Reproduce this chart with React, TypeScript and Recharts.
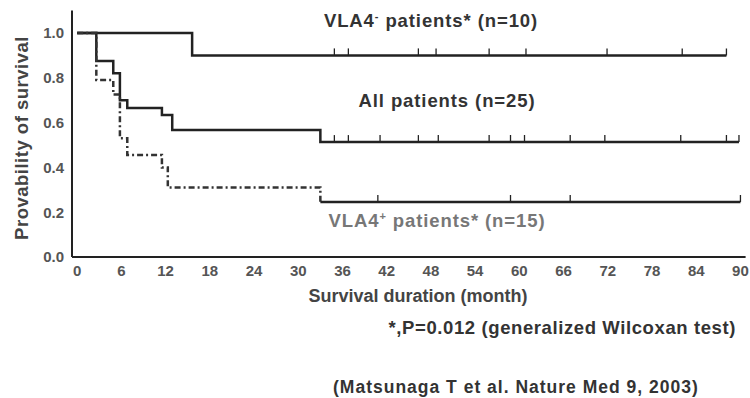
import React from "react";
import {
  ComposedChart,
  Line,
  Scatter,
  XAxis,
  YAxis,
} from "recharts";

// Kaplan-Meier steps (months, survival)
const negTimes = [0, 15.6, 88.1];
const negSurv = [1.0, 0.9, 0.9];
const negCensor = [34.9, 36.8, 46.3, 48.7, 55.9, 60.9, 71.9, 82.1, 88.1];

const allTimes = [0, 2.6, 4.9, 5.8, 6.8, 11.5, 12.9, 33, 89.8];
const allSurv = [1.0, 0.875, 0.82, 0.7, 0.665, 0.634, 0.567, 0.513, 0.513];
const allCensor = [34.9, 36.8, 41.1, 46.3, 49.0, 55.9, 58.8, 60.7, 66.9, 71.6, 81.9, 88.1, 89.8];

const posTimes = [0, 2.6, 4.9, 5.8, 6.8, 11.5, 12.3, 33];
const posSurv = [1.0, 0.79, 0.725, 0.53, 0.455, 0.4, 0.31, 0.245];
const posLateTimes = [33, 90];
const posLateSurv = [0.245, 0.245];
const posCensor = [40.8, 58.8, 66.9, 90];

const xTicks = [0, 6, 12, 18, 24, 30, 36, 42, 48, 54, 60, 66, 72, 78, 84, 90];
const yTicks = [0, 0.2, 0.4, 0.6, 0.8, 1.0];

const toSteps = (t: number[], s: number[]) => t.map((v, i) => ({ t: v, s: s[i] }));
const toMarks = (t: number[], level: number) => t.map((v) => ({ t: v, s: level }));

const INK = "#222";
const FONT = "'Liberation Sans', Arial, sans-serif";

// small upward tick for a censored patient
function CensorMark(props: any) {
  const { cx, cy } = props;
  if (cx == null || cy == null) return null;
  return <line x1={cx} x2={cx} y1={cy} y2={cy - 7} stroke={INK} strokeWidth={1.3} />;
}

const textBase: React.CSSProperties = {
  position: "absolute",
  fontFamily: FONT,
  fontWeight: 700,
  whiteSpace: "nowrap",
  lineHeight: 1,
};

const tickStyle = { fill: "#555", fontSize: 15, fontWeight: 700, fontFamily: FONT };

export default function App() {
  return (
    <div
      style={{
        position: "absolute",
        left: 0,
        top: 0,
        width: 750,
        height: 398,
        background: "#fff",
        overflow: "hidden",
      }}
    >
      <ComposedChart
        width={750}
        height={398}
        margin={{ top: 10.6, right: 4.4, bottom: 111, left: 42 }}
      >
        <XAxis
          type="number"
          dataKey="t"
          domain={[-0.7, 90.7]}
          ticks={xTicks}
          allowDataOverflow
          tickLine={false}
          axisLine={{ stroke: INK, strokeWidth: 2 }}
          tick={tickStyle}
          height={30}
        />
        <YAxis
          type="number"
          dataKey="s"
          domain={[0, 1.1]}
          ticks={yTicks}
          tickFormatter={(v: number) => v.toFixed(1)}
          tickLine={false}
          axisLine={{ stroke: INK, strokeWidth: 2 }}
          tick={tickStyle}
          width={30}
        />
        <Line
          data={toSteps(negTimes, negSurv)}
          dataKey="s"
          type="stepAfter"
          stroke={INK}
          strokeWidth={2.5}
          dot={false}
          activeDot={false}
          isAnimationActive={false}
        />
        <Line
          data={toSteps(allTimes, allSurv)}
          dataKey="s"
          type="stepAfter"
          stroke={INK}
          strokeWidth={2.5}
          dot={false}
          activeDot={false}
          isAnimationActive={false}
        />
        <Line
          data={toSteps(posTimes, posSurv)}
          dataKey="s"
          type="stepAfter"
          stroke="#333"
          strokeWidth={2.5}
          strokeDasharray="6 3 2 3"
          dot={false}
          activeDot={false}
          isAnimationActive={false}
        />
        <Line
          data={toSteps(posLateTimes, posLateSurv)}
          dataKey="s"
          type="stepAfter"
          stroke={INK}
          strokeWidth={2.5}
          dot={false}
          activeDot={false}
          isAnimationActive={false}
        />
        <Scatter
          data={toMarks(negCensor, 0.9)}
          dataKey="s"
          shape={<CensorMark />}
          isAnimationActive={false}
        />
        <Scatter
          data={toMarks(allCensor, 0.513)}
          dataKey="s"
          shape={<CensorMark />}
          isAnimationActive={false}
        />
        <Scatter
          data={toMarks(posCensor, 0.245)}
          dataKey="s"
          shape={<CensorMark />}
          isAnimationActive={false}
        />
      </ComposedChart>

      {/* axis titles */}
      <div
        style={{
          ...textBase,
          left: 22,
          top: 138,
          fontSize: 18.5,
          letterSpacing: 0.5,
          color: "#444",
          transform: "translate(-50%, -50%) rotate(-90deg)",
        }}
      >
        Provability of survival
      </div>
      <div
        style={{
          ...textBase,
          left: 418,
          top: 296,
          fontSize: 18,
          color: "#444",
          transform: "translate(-50%, -50%)",
        }}
      >
        Survival duration (month)
      </div>

      {/* curve labels */}
      <div
        style={{
          ...textBase,
          left: 431,
          top: 21,
          fontSize: 18.5,
          letterSpacing: 0.9,
          color: "#333",
          transform: "translate(-50%, -50%)",
        }}
      >
        VLA4<sup style={{ fontSize: 11, verticalAlign: "7px" }}>-</sup> patients* (n=10)
      </div>
      <div
        style={{
          ...textBase,
          left: 447,
          top: 101,
          fontSize: 18.5,
          letterSpacing: 0.9,
          color: "#333",
          transform: "translate(-50%, -50%)",
        }}
      >
        All patients (n=25)
      </div>
      <div
        style={{
          ...textBase,
          left: 437,
          top: 221,
          fontSize: 18.5,
          letterSpacing: 0.9,
          color: "#777",
          transform: "translate(-50%, -50%)",
        }}
      >
        VLA4<sup style={{ fontSize: 11, verticalAlign: "7px" }}>+</sup> patients* (n=15)
      </div>

      {/* footnotes */}
      <div
        style={{
          ...textBase,
          right: 14,
          top: 319,
          fontSize: 18.5,
          letterSpacing: 0.6,
          color: "#333",
        }}
      >
        *,P=0.012 (generalized Wilcoxan test)
      </div>
      <div
        style={{
          ...textBase,
          left: 333,
          top: 379,
          fontSize: 17.5,
          letterSpacing: 1,
          color: "#333",
        }}
      >
        (Matsunaga T et al. Nature Med 9, 2003)
      </div>
    </div>
  );
}
